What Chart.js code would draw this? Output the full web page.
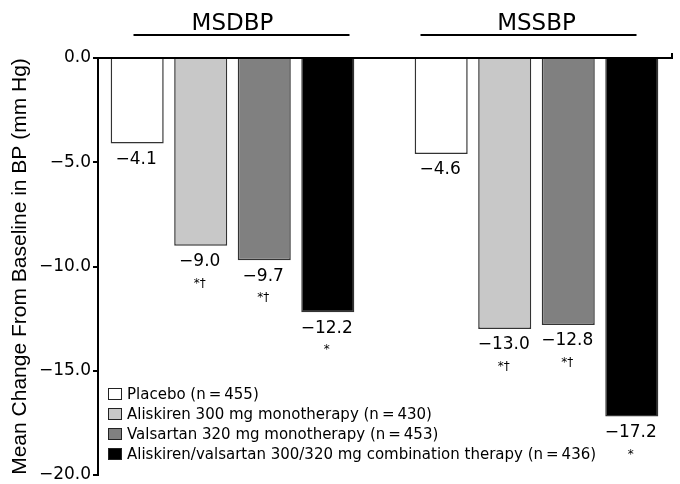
<!DOCTYPE html>
<html>
<head>
<meta charset="utf-8">
<title>Mean Change From Baseline in BP</title>
<script src="https://cdn.jsdelivr.net/npm/chart.js@4.4.1/dist/chart.umd.min.js"></script>
<style>
    html, body { margin: 0; padding: 0; background: #fff; }
    #wrap { width: 680px; height: 484px; }
</style>
</head>
<body>
<div id="wrap"><canvas id="bpChart" width="680" height="484"></canvas></div>
<script>
// ============================================================================
// Data
// ============================================================================

const GROUPS = ['MSDBP', 'MSSBP'];
const GROUP_INDEX = [0, 1];

const TREATMENTS = [
    'Placebo (n\u2009=\u2009455)',
    'Aliskiren 300 mg monotherapy (n\u2009=\u2009430)',
    'Valsartan 320 mg monotherapy (n\u2009=\u2009453)',
    'Aliskiren/valsartan 300/320 mg combination therapy (n\u2009=\u2009436)',
];

const PLACEBO_VALUES = [-4.1, -4.6];
const ALISKIREN_VALUES = [-9.0, -13.0];
const VALSARTAN_VALUES = [-9.7, -12.8];
const COMBO_VALUES = [-12.2, -17.2];

// significance marks printed under each value
const PLACEBO_MARKS = ['', ''];
const ALISKIREN_MARKS = ['*\u2020', '*\u2020'];
const VALSARTAN_MARKS = ['*\u2020', '*\u2020'];
const COMBO_MARKS = ['*', '*'];

const Y_TICKS = [0, -5, -10, -15, -20];

// ============================================================================
// Styling
// ============================================================================

const FILLS = ['#ffffff', '#c8c8c8', '#808080', '#000000'];
const FONT = '"DejaVu Sans", sans-serif';
const TITLE_FONT = '"Liberation Sans", Arial, sans-serif';

const fmt = (v) => v.toFixed(1).replace('-', '\u2212');

const SERIES = [PLACEBO_VALUES, ALISKIREN_VALUES, VALSARTAN_VALUES, COMBO_VALUES];
const MARKS = [PLACEBO_MARKS, ALISKIREN_MARKS, VALSARTAN_MARKS, COMBO_MARKS];

const datasets = SERIES.map((values, d) => ({
    label: TREATMENTS[d],
    data: GROUP_INDEX.map((x, i) => ({ x, y: values[i] })),
    backgroundColor: FILLS[d],
    borderColor: '#333333',
    borderWidth: 1.5,
    categoryPercentage: 0.836,
    barPercentage: 0.835,
}));

// labels, marks, group headers and the in-plot legend
const annotations = {
    id: 'annotations',
    afterDatasetsDraw(chart) {
        const ctx = chart.ctx;
        ctx.save();
        ctx.fillStyle = '#000';
        ctx.textAlign = 'center';
        ctx.textBaseline = 'middle';
        chart.data.datasets.forEach((ds, d) => {
            chart.getDatasetMeta(d).data.forEach((bar, i) => {
                ctx.font = '17px ' + FONT;
                ctx.fillText(fmt(ds.data[i].y), bar.x - 1, bar.y + 16);
                const mark = MARKS[d][i];
                if (mark) {
                    ctx.font = '12px ' + FONT;
                    ctx.fillText(mark, bar.x - 1, bar.y + 38);
                }
            });
        });
        ctx.restore();
    },
    afterDraw(chart) {
        const ctx = chart.ctx;
        const area = chart.chartArea;
        ctx.save();

        // underline under each group header
        const half = (area.right - area.left) / 2;
        ctx.strokeStyle = '#000';
        ctx.lineWidth = 2;
        GROUPS.forEach((g, i) => {
            const cx = area.left + half * (i + 0.5);
            ctx.beginPath();
            ctx.moveTo(cx - 108, 35);
            ctx.lineTo(cx + 108, 35);
            ctx.stroke();
        });

        // small end tick on the zero line
        ctx.beginPath();
        ctx.moveTo(area.right, area.top + 1);
        ctx.lineTo(area.right, area.top - 5);
        ctx.stroke();

        // legend inside the plot, bottom left
        const lx = area.left + 10;
        const ly = area.bottom - 81;
        ctx.font = '15px ' + FONT;
        ctx.textAlign = 'left';
        ctx.textBaseline = 'middle';
        chart.data.datasets.forEach((ds, i) => {
            const y = ly + i * 20;
            ctx.fillStyle = ds.backgroundColor;
            ctx.fillRect(lx, y - 6, 14, 12);
            ctx.strokeStyle = '#222';
            ctx.lineWidth = 1;
            ctx.strokeRect(lx + 0.5, y - 5.5, 13, 11);
            ctx.fillStyle = '#000';
            ctx.fillText(ds.label, lx + 19, y + 1);
        });
        ctx.restore();
    },
};

const chart = new Chart(document.getElementById('bpChart'), {
    type: 'bar',
    data: { datasets },
    options: {
        responsive: false,
        animation: false,
        devicePixelRatio: 1,
        layout: { padding: { left: 0, right: 8, top: 0, bottom: 9 } },
        plugins: {
            legend: { display: false },
            tooltip: { enabled: false },
        },
        scales: {
            x: {
                type: 'linear',
                position: 'top',
                offset: false,
                min: -0.4424,
                max: 1.4458,
                afterBuildTicks: (scale) => {
                    scale.ticks = GROUP_INDEX.map((v) => ({ value: v }));
                },
                afterFit: (scale) => {
                    scale.height = 58;
                    scale.paddingLeft = 0;
                    scale.paddingRight = 0;
                },
                grid: { display: false, drawTicks: false },
                border: { display: true, color: '#000', width: 2 },
                ticks: {
                    padding: 20,
                    color: '#000',
                    font: { family: FONT, size: 23 },
                    callback: (v) => GROUPS[v] ?? '',
                },
            },
            y: {
                min: -20,
                max: 0,
                afterBuildTicks: (scale) => {
                    scale.ticks = Y_TICKS.map((v) => ({ value: v }));
                },
                afterFit: (scale) => {
                    scale.width = 98;
                    scale.paddingTop = 0;
                    scale.paddingBottom = 0;
                },
                grid: {
                    drawOnChartArea: false,
                    drawTicks: true,
                    tickLength: 5,
                    color: '#000',
                    lineWidth: 2,
                },
                border: { display: true, color: '#000', width: 2 },
                ticks: {
                    padding: 2,
                    color: '#000',
                    font: { family: FONT, size: 17 },
                    callback: (v) => fmt(v),
                },
                title: {
                    display: true,
                    text: 'Mean Change From Baseline in BP (mm Hg)',
                    color: '#000',
                    font: { family: TITLE_FONT, size: 21 },
                    padding: { top: 8, bottom: 0 },
                },
            },
        },
    },
    plugins: [annotations],
});
</script>
</body>
</html>
